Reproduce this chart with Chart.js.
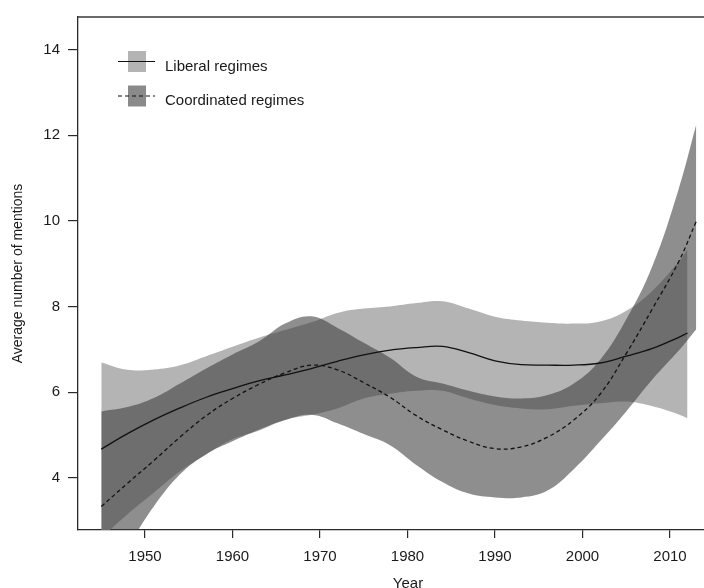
<!DOCTYPE html>
<html>
<head>
<meta charset="utf-8">
<script src="https://cdn.jsdelivr.net/npm/chart.js@4.4.1/dist/chart.umd.min.js"></script>
<style>
  html, body { margin: 0; padding: 0; background: #fff; overflow: hidden; width: 704px; height: 588px; }
  #wrap { position: absolute; left: 0; top: 0; width: 740px; height: 591px; }
</style>
</head>
<body>
<div id="wrap"><canvas id="chart" width="740" height="591"></canvas></div>
<script>
// years for each smoothed series (liberal curve stops one year earlier)
const libYears   = [1945,1948,1951,1954,1957,1960,1963,1966,1969,1972,1975,1978,1981,1984,1987,1990,1993,1996,1999,2002,2005,2008,2011,2012];
const coordYears = [1945,1948,1951,1954,1957,1960,1963,1966,1969,1972,1975,1978,1981,1984,1987,1990,1993,1996,1999,2002,2005,2008,2011,2013];

// liberal regimes: fitted mean and confidence band
const libMean  = [4.67,5.03,5.35,5.63,5.88,6.08,6.26,6.40,6.55,6.72,6.87,6.98,7.04,7.07,6.92,6.73,6.64,6.63,6.63,6.68,6.84,7.02,7.28,7.38];
const libUpper = [6.69,6.52,6.53,6.63,6.84,7.06,7.27,7.45,7.63,7.85,7.95,8.00,8.08,8.12,7.95,7.76,7.67,7.62,7.60,7.65,7.90,8.37,9.05,9.33];
const libLower = [2.60,3.15,3.65,4.15,4.55,4.90,5.10,5.35,5.47,5.62,5.85,5.96,6.03,6.03,5.85,5.70,5.62,5.60,5.68,5.74,5.78,5.67,5.48,5.39];

// coordinated regimes: fitted mean and confidence band
const coordMean  = [3.33,3.87,4.40,4.95,5.45,5.85,6.18,6.45,6.63,6.52,6.22,5.88,5.45,5.12,4.85,4.68,4.72,4.95,5.35,5.95,6.90,7.95,9.05,9.99];
const coordUpper = [5.55,5.65,5.86,6.20,6.55,6.88,7.18,7.60,7.77,7.50,7.15,6.80,6.36,6.20,6.03,5.90,5.85,5.93,6.20,6.75,7.70,8.95,10.75,12.25];
const coordLower = [1.60,2.40,3.33,4.08,4.55,4.85,5.12,5.35,5.47,5.27,5.02,4.76,4.30,3.90,3.63,3.54,3.54,3.70,4.20,4.85,5.55,6.30,6.97,7.47];

const xTicks = [1950,1960,1970,1980,1990,2000,2010];
const yTicks = [4,6,8,10,12,14];
const legendLabels = ['Liberal regimes', 'Coordinated regimes'];

const LIGHT = 'rgb(180,180,180)';
const COORD = 'rgba(58,58,58,0.573)';
const FONT = '"Liberation Sans", Arial, Helvetica, sans-serif';

const pts = (xs, ys) => xs.map((x, i) => ({ x: x, y: ys[i] }));

// plugin: box top/right border + legend inside plot area
const frameLegend = {
    id: 'frameLegend',
    afterDraw(chart) {
        const { ctx, chartArea: a } = chart;
        ctx.save();
        ctx.strokeStyle = '#3a3a3a';
        ctx.lineWidth = 1.3;
        ctx.beginPath();
        ctx.moveTo(a.left, a.top);
        ctx.lineTo(a.right, a.top);
        ctx.lineTo(a.right, a.bottom);
        ctx.stroke();

        const fills = [LIGHT, 'rgb(138,138,138)'];
        const dashes = [[], [4, 3]];
        legendLabels.forEach((label, i) => {
            const cy = a.top + 44.5 + i * 34.5;
            ctx.fillStyle = fills[i];
            ctx.fillRect(a.left + 50, cy - 10.5, 18, 21);
            ctx.strokeStyle = '#111';
            ctx.lineWidth = 1.2;
            ctx.setLineDash(dashes[i]);
            ctx.beginPath();
            ctx.moveTo(a.left + 40, cy);
            ctx.lineTo(a.left + 77, cy);
            ctx.stroke();
            ctx.setLineDash([]);
            ctx.fillStyle = '#1a1a1a';
            ctx.font = '15px ' + FONT;
            ctx.textBaseline = 'alphabetic';
            ctx.textAlign = 'left';
            ctx.fillText(label, a.left + 87, cy + 9);
        });
        ctx.restore();
    }
};

const lineBase = { pointRadius: 0, tension: 0.4, fill: false };

new Chart(document.getElementById('chart'), {
    type: 'line',
    data: {
        datasets: [
            // drawn last (on top): the two fitted lines
            { ...lineBase, label: 'Liberal regimes', data: pts(libYears, libMean), borderColor: '#111', borderWidth: 1.3 },
            { ...lineBase, label: 'Coordinated regimes', data: pts(coordYears, coordMean), borderColor: '#111', borderWidth: 1.3, borderDash: [4, 3] },
            // coordinated band (semi-transparent so overlap darkens)
            { ...lineBase, data: pts(coordYears, coordUpper), borderWidth: 0, borderColor: 'rgba(0,0,0,0)', fill: '+1', backgroundColor: COORD },
            { ...lineBase, data: pts(coordYears, coordLower), borderWidth: 0, borderColor: 'rgba(0,0,0,0)' },
            // liberal band (drawn first)
            { ...lineBase, data: pts(libYears, libUpper), borderWidth: 0, borderColor: 'rgba(0,0,0,0)', fill: '+1', backgroundColor: LIGHT },
            { ...lineBase, data: pts(libYears, libLower), borderWidth: 0, borderColor: 'rgba(0,0,0,0)' }
        ]
    },
    options: {
        responsive: false,
        animation: false,
        devicePixelRatio: 1,
        layout: { padding: { top: 12, right: 2, left: 0, bottom: 0 } },
        plugins: {
            legend: { display: false },
            tooltip: { enabled: false }
        },
        scales: {
            x: {
                type: 'linear',
                min: 1942.34,
                max: 2017.77,
                afterBuildTicks: s => { s.ticks = xTicks.map(v => ({ value: v })); },
                afterFit: s => { s.height = 61; },
                grid: { drawOnChartArea: false, drawTicks: true, tickLength: 8, color: '#2a2a2a', lineWidth: 1.2 },
                border: { display: true, color: '#2a2a2a', width: 1.3 },
                ticks: { color: '#1a1a1a', padding: 10, maxRotation: 0, font: { family: FONT, size: 15 }, callback: v => String(v) },
                title: { display: true, text: 'Year', color: '#1a1a1a', font: { family: FONT, size: 15, lineHeight: 1 }, padding: 0 }
            },
            y: {
                type: 'linear',
                min: 2.78,
                max: 14.76,
                afterBuildTicks: s => { s.ticks = yTicks.map(v => ({ value: v })); },
                afterFit: s => { s.width = 78; },
                grid: { drawOnChartArea: false, drawTicks: true, tickLength: 10, color: '#2a2a2a', lineWidth: 1.2 },
                border: { display: true, color: '#2a2a2a', width: 1.3 },
                ticks: { color: '#1a1a1a', padding: 8, font: { family: FONT, size: 15 } },
                title: { display: true, text: 'Average number of mentions', color: '#1a1a1a', font: { family: FONT, size: 14 }, padding: { top: 10 } }
            }
        }
    },
    plugins: [frameLegend]
});
</script>
</body>
</html>
